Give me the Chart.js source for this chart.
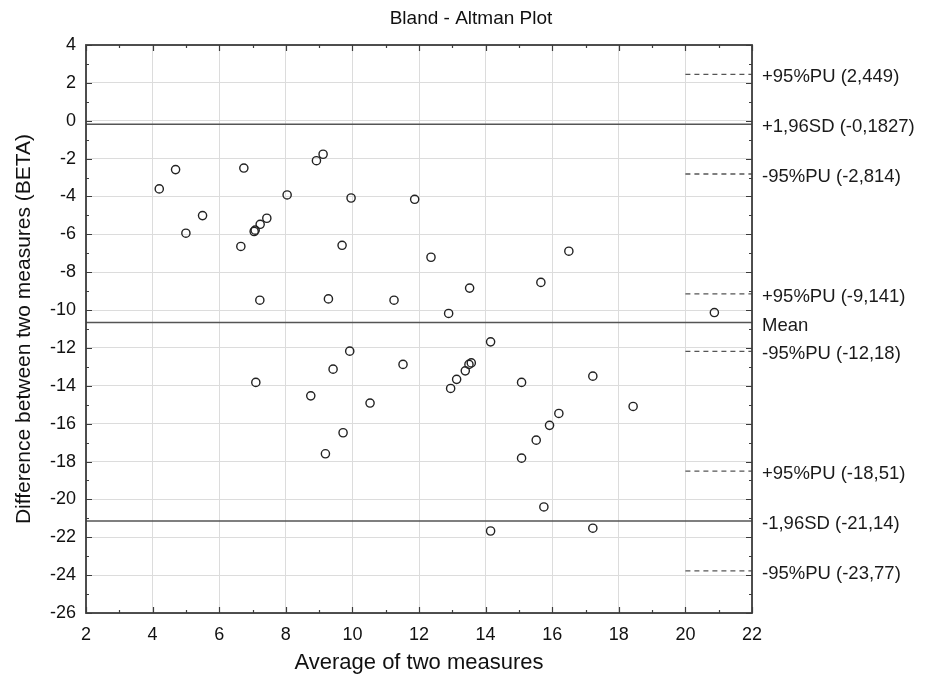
<!DOCTYPE html>
<html lang="en">
<head>
  <meta charset="UTF-8" />
  <title>Bland - Altman Plot</title>
  <script src="https://cdn.jsdelivr.net/npm/chart.js"></script>
  <style>
    body { margin: 0; background: #fff; }
    canvas { display: block; }
  </style>
</head>
<body>
  <canvas id="baChart" width="935" height="676"></canvas>

  <script>
    // average of two measures (x) and difference (y)
    const avgX = [4.2, 4.69, 5.0, 5.5, 6.65, 6.74, 7.05, 7.08, 7.23, 7.43,
      7.22, 8.04, 8.92, 9.12, 9.69, 9.96, 9.28, 11.25, 11.87, 12.36,
      12.89, 13.52, 15.66, 16.5, 20.87, 7.1, 8.75, 9.42, 9.92, 11.52,
      10.53, 9.72, 9.19, 14.15, 12.95, 13.13, 13.39, 13.5, 13.57, 15.08,
      17.22, 18.43, 16.2, 15.92, 15.52, 15.08, 15.75, 14.15, 17.22];
    const diffY = [-3.6, -2.58, -5.94, -5.01, -6.64, -2.5, -5.85, -5.78, -5.47, -5.15,
      -9.48, -3.92, -2.11, -1.77, -6.58, -4.08, -9.41, -9.48, -4.15, -7.21,
      -10.18, -8.84, -8.54, -6.89, -10.13, -13.82, -14.53, -13.12, -12.17, -12.87,
      -14.91, -16.48, -17.59, -11.68, -14.14, -13.66, -13.21, -12.87, -12.79, -13.82,
      -13.49, -15.09, -15.46, -16.09, -16.87, -17.82, -20.4, -21.67, -21.52];

    // mean and limits of agreement (solid), prediction limits (dashed)
    const solidValues = [-0.1827, -10.66, -21.14];
    const solidLabels = ["+1,96SD (-0,1827)", "Mean", "-1,96SD (-21,14)"];
    const dashedValues = [2.449, -2.814, -9.141, -12.18, -18.51, -23.77];
    const dashedLabels = ["+95%PU (2,449)", "-95%PU (-2,814)", "+95%PU (-9,141)",
      "-95%PU (-12,18)", "+95%PU (-18,51)", "-95%PU (-23,77)"];

    const xMin = 2, xMax = 22, yMin = -26, yMax = 4;
    const dashStart = 20;

    const FONT = "'Liberation Sans', Arial, sans-serif";

    const datasets = [];
    solidValues.forEach(v => {
      datasets.push({
        type: "line",
        data: [{ x: xMin, y: v }, { x: xMax, y: v }],
        borderColor: "#555",
        borderWidth: 1.6,
        pointRadius: 0,
        order: 2
      });
    });
    dashedValues.forEach(v => {
      datasets.push({
        type: "line",
        data: [{ x: dashStart, y: v }, { x: xMax, y: v }],
        borderColor: "#555",
        borderWidth: 1.3,
        borderDash: [5, 4],
        pointRadius: 0,
        order: 2
      });
    });
    datasets.push({
      type: "scatter",
      data: avgX.map((x, i) => ({ x: x, y: diffY[i] })),
      borderColor: "#222",
      borderWidth: 1.4,
      backgroundColor: "rgba(0,0,0,0)",
      pointRadius: 4.1,
      order: 1
    });

    // frame, inward ticks, title and right-hand labels
    const decorations = {
      id: "decorations",
      afterDraw(chart) {
        const c = chart.ctx;
        const a = chart.chartArea;
        const xs = chart.scales.x, ys = chart.scales.y;
        c.save();
        c.strokeStyle = "#3c3c3c";
        c.lineWidth = 1.2;
        for (let v = xMin; v <= xMax; v++) {
          const px = Math.round(xs.getPixelForValue(v)) + 0.5;
          const len = v % 2 === 0 ? 6 : 3;
          c.beginPath();
          c.moveTo(px, a.bottom); c.lineTo(px, a.bottom - len);
          c.moveTo(px, a.top); c.lineTo(px, a.top + len);
          c.stroke();
        }
        for (let v = yMin; v <= yMax; v++) {
          const py = Math.round(ys.getPixelForValue(v)) + 0.5;
          const len = v % 2 === 0 ? 6 : 3;
          c.beginPath();
          c.moveTo(a.left, py); c.lineTo(a.left + len, py);
          c.moveTo(a.right, py); c.lineTo(a.right - len, py);
          c.stroke();
        }
        c.lineWidth = 1.8;
        c.strokeRect(a.left, a.top, a.right - a.left, a.bottom - a.top);

        c.fillStyle = "#111";
        c.font = "19px " + FONT;
        c.textAlign = "center";
        c.textBaseline = "middle";
        c.fillText("Bland - Altman Plot", 471, 19);

        c.textAlign = "left";
        c.fillStyle = "#1a1a1a";
        c.font = "18.5px " + FONT;
        const lx = a.right + 10;
        solidValues.forEach((v, i) => c.fillText(solidLabels[i], lx, ys.getPixelForValue(v) + 3));
        dashedValues.forEach((v, i) => c.fillText(dashedLabels[i], lx, ys.getPixelForValue(v) + 3));
        c.restore();
      }
    };

    new Chart(document.getElementById("baChart"), {
      type: "scatter",
      data: { datasets: datasets },
      options: {
        responsive: false,
        animation: false,
        layout: { padding: { top: 45, right: 183, left: 0, bottom: 0 } },
        plugins: {
          legend: { display: false },
          tooltip: { enabled: false },
          title: { display: false }
        },
        scales: {
          x: {
            type: "linear",
            min: xMin, max: xMax,
            afterFit: s => { s.height = 63; },
            ticks: { stepSize: 2, padding: 11, color: "#111", font: { family: FONT, size: 18 } },
            grid: { color: "#dcdcdc", drawTicks: false },
            border: { display: false },
            title: {
              display: true, text: "Average of two measures", color: "#111",
              font: { family: FONT, size: 22 }, padding: { top: 0, bottom: 0 }
            }
          },
          y: {
            type: "linear",
            min: yMin, max: yMax,
            afterFit: s => { s.width = 86; },
            ticks: { stepSize: 2, padding: 10, color: "#111", font: { family: FONT, size: 18 } },
            grid: { color: "#dcdcdc", drawTicks: false },
            border: { display: false },
            title: {
              display: true, text: "Difference between two measures (BETA)", color: "#111",
              font: { family: FONT, size: 21 }, padding: { top: 12, bottom: 0 }
            }
          }
        }
      },
      plugins: [decorations]
    });
  </script>
</body>
</html>
